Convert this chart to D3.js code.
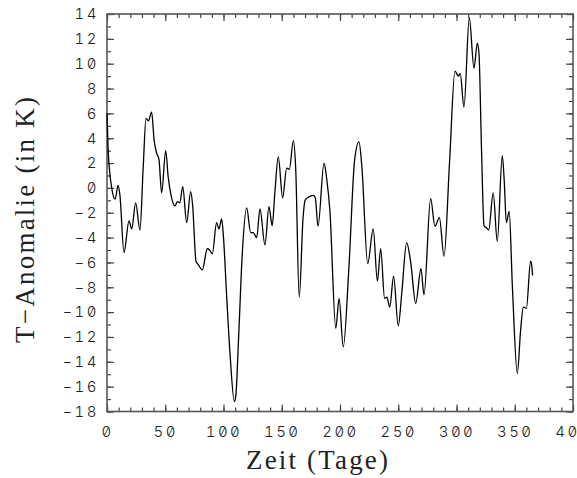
<!DOCTYPE html>
<html lang="de">

<head>
  <meta charset="utf-8">
  <title>T-Anomalie</title>
  <script src="https://cdn.jsdelivr.net/npm/d3@7"></script>
  <style>
    body { margin: 0; background: #fff; }
    .tick text { font-family: Inter, "DejaVu Sans Mono", monospace; font-size: 15px; font-weight: 300;
      font-variant-numeric: slashed-zero tabular-nums; font-feature-settings: "zero" 1, "tnum" 1;
      letter-spacing: 2.5px; fill: #222; }
    .tick line { stroke: #444; stroke-width: 1.2; }
    .frame { fill: none; stroke: #555; stroke-width: 1.6; }
    .series { fill: none; stroke: #000; stroke-width: 1.3; }
    .axis-title { font-family: "Liberation Serif", serif; font-size: 27px; fill: #222; }
  </style>
</head>

<body>
  <svg id="chart" width="577" height="478"></svg>

  <script>
    // Tag des Jahres (Stuetzstellen)
    var days = [0, 1, 2, 4, 7, 9.5, 11, 14.6, 18.9, 21.2, 24.6, 28.3, 31, 33.5, 35.5, 38.3,
      40.5, 42.6, 44.6, 46.9, 50.4, 52.5, 55, 58.4, 60.4, 62.5, 65, 68.4, 71.8, 73.5, 76.4,
      78.5, 81.8, 86.1, 88, 90.4, 94.1, 96.1, 98.4, 100, 102.7, 105.7, 109.3, 110.5, 113,
      116, 119.9, 123.3, 125.5, 128.5, 131.3, 135.6, 139, 141.8, 144, 147, 150.8, 154.2,
      156.5, 160, 162, 165, 168.3, 170, 172.8, 177, 178.8, 181.1, 186.3, 188.5, 191.3,
      196.4, 199.2, 202.8, 207.6, 212.6, 216.3, 218.7, 223.8, 228.5, 232.1, 234.9, 238.3,
      240.2, 242.7, 246, 250, 253, 257.2, 260.7, 265, 269.5, 272.1, 277.8, 281.5, 285.3,
      289.3, 294, 298.7, 301.6, 303.2, 306.4, 311, 315, 317.9, 319.3, 321.5, 323.6, 325.6,
      327.6, 331.5, 335, 339.3, 341, 342.8, 345.2, 348, 352.2, 355, 357.4, 360, 363.6,
      364.5, 365.3];

    // Temperatur-Anomalie in K
    var anomaly = [6.0, 3.0, 1.6, 0.0, -0.9, 0.2, -0.5, -5.2, -2.65, -3.3, -1.2, -3.4, 1.5, 5.6, 5.4, 6.1,
      3.8, 2.8, 2.3, -0.4, 3.0, 0.9, -0.6, -1.45, -1.1, -1.2, 0.1, -2.8, -0.3, -1.4, -5.9,
      -6.2, -6.6, -4.9, -5.0, -5.3, -2.8, -3.3, -2.5, -4.0, -8.7, -13.5, -17.2, -16.8, -12.0,
      -5.5, -1.6, -3.6, -3.6, -4.0, -1.7, -4.6, -1.5, -3.05, -0.5, 2.5, -0.8, 1.6,
      1.5, 3.8, 1.5, -8.8, -2.4, -1.0, -0.75, -0.6, -0.8, -3.1, 2.0, 0.8, -1.8,
      -11.3, -8.9, -12.8, -6.5, 2.3, 3.7, 1.8, -6.1, -3.3, -7.5, -4.9, -8.9,
      -8.8, -9.6, -7.1, -11.1, -8.5, -4.4, -6.0, -9.3, -6.5, -8.6, -0.85, -3.1, -2.4,
      -5.5, 2.0, 9.4, 9.0, 9.2, 6.5, 13.7, 9.65, 11.65, 10.8, 3.0, -3.05, -3.2,
      -3.4, -0.4, -4.3, 2.6, 0.5, -2.8, -1.9, -8.0, -14.95, -11.5, -9.6, -9.7, -5.9,
      -6.2, -7.05];

    var xMajor = d3.range(0, 401, 50);
    var xMinor = d3.range(0, 401, 10);
    var yMajor = d3.range(-18, 15, 2);
    var yMinor = d3.range(-18, 15, 1);

    (function () {
      var pLeft = 107, pRight = 573, pTop = 14, pBottom = 411.5;

      var svg = d3.select("#chart");

      var x = d3.scaleLinear().domain([0, 400]).range([pLeft, pRight]);
      var y = d3.scaleLinear().domain([-18, 14]).range([pBottom, pTop]);

      // minor ticks on all four sides
      svg.append("g").attr("transform", "translate(0," + pBottom + ")")
        .call(d3.axisBottom(x).tickValues(xMinor).tickSize(-4).tickFormat(""));
      svg.append("g").attr("transform", "translate(0," + pTop + ")")
        .call(d3.axisTop(x).tickValues(xMinor).tickSize(-4).tickFormat(""));
      svg.append("g").attr("transform", "translate(" + pLeft + ",0)")
        .call(d3.axisLeft(y).tickValues(yMinor).tickSize(-4).tickFormat(""));
      svg.append("g").attr("transform", "translate(" + pRight + ",0)")
        .call(d3.axisRight(y).tickValues(yMinor).tickSize(-4).tickFormat(""));

      // major ticks + labels
      svg.append("g").attr("transform", "translate(0," + pBottom + ")")
        .call(d3.axisBottom(x).tickValues(xMajor).tickSize(-7).tickPadding(15).tickFormat(d3.format("d")));
      svg.append("g").attr("transform", "translate(0," + pTop + ")")
        .call(d3.axisTop(x).tickValues(xMajor).tickSize(-7).tickFormat(""));
      svg.append("g").attr("transform", "translate(" + pLeft + ",0)")
        .call(d3.axisLeft(y).tickValues(yMajor).tickSize(-7).tickPadding(8).tickFormat(d3.format("d")));
      svg.append("g").attr("transform", "translate(" + pRight + ",0)")
        .call(d3.axisRight(y).tickValues(yMajor).tickSize(-7).tickFormat(""));

      svg.selectAll(".domain").remove();

      svg.append("rect").attr("class", "frame")
        .attr("x", pLeft).attr("y", pTop)
        .attr("width", pRight - pLeft).attr("height", pBottom - pTop);

      // Zeitreihe
      var line = d3.line()
        .x(function (d, i) { return x(days[i]); })
        .y(function (d) { return y(d); })
        .curve(d3.curveMonotoneX);

      svg.append("path").attr("class", "series")
        .attr("d", line(anomaly));

      // Achsentitel
      svg.append("text").attr("class", "axis-title")
        .attr("x", 317).attr("y", 469)
        .attr("text-anchor", "middle")
        .attr("textLength", 142).attr("lengthAdjust", "spacing")
        .text("Zeit (Tage)");

      svg.append("text").attr("class", "axis-title")
        .attr("transform", "translate(34,220) rotate(-90)")
        .attr("text-anchor", "middle")
        .attr("textLength", 246).attr("lengthAdjust", "spacing")
        .text("T\u2212Anomalie (in K)");
    })();
  </script>
</body>

</html>
